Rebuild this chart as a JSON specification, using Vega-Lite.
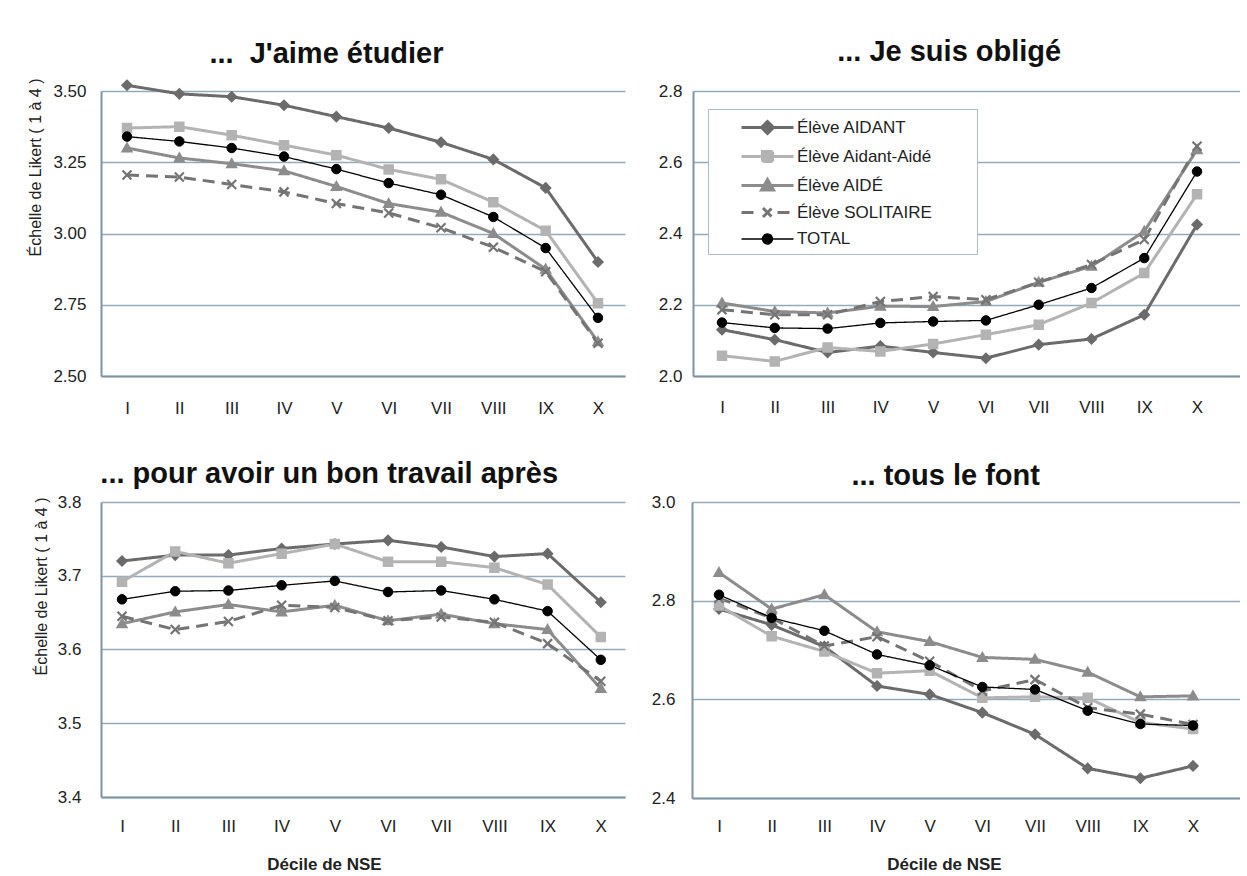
{
  "$schema": "https://vega.github.io/schema/vega-lite/v6.json",
  "background": "white",
  "padding": {"left": 27, "top": 38, "right": 0, "bottom": 0},
  "config": {
    "font": "Liberation Sans",
    "view": {"stroke": null},
    "axis": {"labelFont": "Liberation Sans", "labelFontSize": 17, "labelColor": "#222222", "ticks": false, "domainColor": "#7f95a3", "domainWidth": 2, "gridColor": "#92abbb", "gridWidth": 1.3, "titleFont": "Liberation Sans", "titleColor": "#222222"},
    "axisX": {"grid": false, "labelAngle": 0, "titleFontSize": 17, "titleFontWeight": "bold", "values": [1,2,3,4,5,6,7,8,9,10], "labelExpr": "['','I','II','III','IV','V','VI','VII','VIII','IX','X'][datum.value]"},
    "axisY": {"titleFontSize": 16, "titleFontWeight": "normal"},
    "title": {"font": "Liberation Sans", "fontSize": 29, "fontWeight": "bold", "color": "#111111", "anchor": "middle", "frame": "bounds"}
  },
  "datasets": {
    "aime": [
      {"i":1,"s":"Élève AIDANT","v":3.52},{"i":2,"s":"Élève AIDANT","v":3.49},{"i":3,"s":"Élève AIDANT","v":3.48},{"i":4,"s":"Élève AIDANT","v":3.45},{"i":5,"s":"Élève AIDANT","v":3.41},{"i":6,"s":"Élève AIDANT","v":3.37},{"i":7,"s":"Élève AIDANT","v":3.32},{"i":8,"s":"Élève AIDANT","v":3.26},{"i":9,"s":"Élève AIDANT","v":3.16},{"i":10,"s":"Élève AIDANT","v":2.90},
      {"i":1,"s":"Élève Aidant-Aidé","v":3.37},{"i":2,"s":"Élève Aidant-Aidé","v":3.375},{"i":3,"s":"Élève Aidant-Aidé","v":3.345},{"i":4,"s":"Élève Aidant-Aidé","v":3.31},{"i":5,"s":"Élève Aidant-Aidé","v":3.275},{"i":6,"s":"Élève Aidant-Aidé","v":3.225},{"i":7,"s":"Élève Aidant-Aidé","v":3.19},{"i":8,"s":"Élève Aidant-Aidé","v":3.11},{"i":9,"s":"Élève Aidant-Aidé","v":3.01},{"i":10,"s":"Élève Aidant-Aidé","v":2.755},
      {"i":1,"s":"Élève AIDÉ","v":3.30},{"i":2,"s":"Élève AIDÉ","v":3.265},{"i":3,"s":"Élève AIDÉ","v":3.245},{"i":4,"s":"Élève AIDÉ","v":3.22},{"i":5,"s":"Élève AIDÉ","v":3.165},{"i":6,"s":"Élève AIDÉ","v":3.105},{"i":7,"s":"Élève AIDÉ","v":3.075},{"i":8,"s":"Élève AIDÉ","v":3.00},{"i":9,"s":"Élève AIDÉ","v":2.875},{"i":10,"s":"Élève AIDÉ","v":2.62},
      {"i":1,"s":"Élève SOLITAIRE","v":3.205},{"i":2,"s":"Élève SOLITAIRE","v":3.198},{"i":3,"s":"Élève SOLITAIRE","v":3.172},{"i":4,"s":"Élève SOLITAIRE","v":3.146},{"i":5,"s":"Élève SOLITAIRE","v":3.105},{"i":6,"s":"Élève SOLITAIRE","v":3.072},{"i":7,"s":"Élève SOLITAIRE","v":3.02},{"i":8,"s":"Élève SOLITAIRE","v":2.952},{"i":9,"s":"Élève SOLITAIRE","v":2.866},{"i":10,"s":"Élève SOLITAIRE","v":2.615},
      {"i":1,"s":"TOTAL","v":3.34},{"i":2,"s":"TOTAL","v":3.323},{"i":3,"s":"TOTAL","v":3.30},{"i":4,"s":"TOTAL","v":3.27},{"i":5,"s":"TOTAL","v":3.226},{"i":6,"s":"TOTAL","v":3.177},{"i":7,"s":"TOTAL","v":3.136},{"i":8,"s":"TOTAL","v":3.058},{"i":9,"s":"TOTAL","v":2.949},{"i":10,"s":"TOTAL","v":2.704}
    ],
    "oblige": [
      {"i":1,"s":"Élève AIDANT","v":2.13},{"i":2,"s":"Élève AIDANT","v":2.102},{"i":3,"s":"Élève AIDANT","v":2.066},{"i":4,"s":"Élève AIDANT","v":2.084},{"i":5,"s":"Élève AIDANT","v":2.066},{"i":6,"s":"Élève AIDANT","v":2.05},{"i":7,"s":"Élève AIDANT","v":2.088},{"i":8,"s":"Élève AIDANT","v":2.104},{"i":9,"s":"Élève AIDANT","v":2.172},{"i":10,"s":"Élève AIDANT","v":2.425},
      {"i":1,"s":"Élève Aidant-Aidé","v":2.057},{"i":2,"s":"Élève Aidant-Aidé","v":2.041},{"i":3,"s":"Élève Aidant-Aidé","v":2.08},{"i":4,"s":"Élève Aidant-Aidé","v":2.069},{"i":5,"s":"Élève Aidant-Aidé","v":2.09},{"i":6,"s":"Élève Aidant-Aidé","v":2.116},{"i":7,"s":"Élève Aidant-Aidé","v":2.144},{"i":8,"s":"Élève Aidant-Aidé","v":2.205},{"i":9,"s":"Élève Aidant-Aidé","v":2.289},{"i":10,"s":"Élève Aidant-Aidé","v":2.51},
      {"i":1,"s":"Élève AIDÉ","v":2.205},{"i":2,"s":"Élève AIDÉ","v":2.181},{"i":3,"s":"Élève AIDÉ","v":2.177},{"i":4,"s":"Élève AIDÉ","v":2.196},{"i":5,"s":"Élève AIDÉ","v":2.195},{"i":6,"s":"Élève AIDÉ","v":2.209},{"i":7,"s":"Élève AIDÉ","v":2.263},{"i":8,"s":"Élève AIDÉ","v":2.308},{"i":9,"s":"Élève AIDÉ","v":2.406},{"i":10,"s":"Élève AIDÉ","v":2.635},
      {"i":1,"s":"Élève SOLITAIRE","v":2.186},{"i":2,"s":"Élève SOLITAIRE","v":2.172},{"i":3,"s":"Élève SOLITAIRE","v":2.172},{"i":4,"s":"Élève SOLITAIRE","v":2.209},{"i":5,"s":"Élève SOLITAIRE","v":2.223},{"i":6,"s":"Élève SOLITAIRE","v":2.214},{"i":7,"s":"Élève SOLITAIRE","v":2.263},{"i":8,"s":"Élève SOLITAIRE","v":2.313},{"i":9,"s":"Élève SOLITAIRE","v":2.383},{"i":10,"s":"Élève SOLITAIRE","v":2.645},
      {"i":1,"s":"TOTAL","v":2.15},{"i":2,"s":"TOTAL","v":2.135},{"i":3,"s":"TOTAL","v":2.133},{"i":4,"s":"TOTAL","v":2.149},{"i":5,"s":"TOTAL","v":2.153},{"i":6,"s":"TOTAL","v":2.156},{"i":7,"s":"TOTAL","v":2.2},{"i":8,"s":"TOTAL","v":2.247},{"i":9,"s":"TOTAL","v":2.331},{"i":10,"s":"TOTAL","v":2.574}
    ],
    "travail": [
      {"i":1,"s":"Élève AIDANT","v":3.72},{"i":2,"s":"Élève AIDANT","v":3.728},{"i":3,"s":"Élève AIDANT","v":3.728},{"i":4,"s":"Élève AIDANT","v":3.737},{"i":5,"s":"Élève AIDANT","v":3.743},{"i":6,"s":"Élève AIDANT","v":3.748},{"i":7,"s":"Élève AIDANT","v":3.739},{"i":8,"s":"Élève AIDANT","v":3.726},{"i":9,"s":"Élève AIDANT","v":3.73},{"i":10,"s":"Élève AIDANT","v":3.664},
      {"i":1,"s":"Élève Aidant-Aidé","v":3.692},{"i":2,"s":"Élève Aidant-Aidé","v":3.733},{"i":3,"s":"Élève Aidant-Aidé","v":3.717},{"i":4,"s":"Élève Aidant-Aidé","v":3.73},{"i":5,"s":"Élève Aidant-Aidé","v":3.743},{"i":6,"s":"Élève Aidant-Aidé","v":3.719},{"i":7,"s":"Élève Aidant-Aidé","v":3.719},{"i":8,"s":"Élève Aidant-Aidé","v":3.711},{"i":9,"s":"Élève Aidant-Aidé","v":3.688},{"i":10,"s":"Élève Aidant-Aidé","v":3.617},
      {"i":1,"s":"Élève AIDÉ","v":3.635},{"i":2,"s":"Élève AIDÉ","v":3.651},{"i":3,"s":"Élève AIDÉ","v":3.661},{"i":4,"s":"Élève AIDÉ","v":3.651},{"i":5,"s":"Élève AIDÉ","v":3.66},{"i":6,"s":"Élève AIDÉ","v":3.639},{"i":7,"s":"Élève AIDÉ","v":3.648},{"i":8,"s":"Élève AIDÉ","v":3.635},{"i":9,"s":"Élève AIDÉ","v":3.627},{"i":10,"s":"Élève AIDÉ","v":3.547},
      {"i":1,"s":"Élève SOLITAIRE","v":3.645},{"i":2,"s":"Élève SOLITAIRE","v":3.627},{"i":3,"s":"Élève SOLITAIRE","v":3.638},{"i":4,"s":"Élève SOLITAIRE","v":3.66},{"i":5,"s":"Élève SOLITAIRE","v":3.657},{"i":6,"s":"Élève SOLITAIRE","v":3.639},{"i":7,"s":"Élève SOLITAIRE","v":3.644},{"i":8,"s":"Élève SOLITAIRE","v":3.637},{"i":9,"s":"Élève SOLITAIRE","v":3.608},{"i":10,"s":"Élève SOLITAIRE","v":3.557},
      {"i":1,"s":"TOTAL","v":3.668},{"i":2,"s":"TOTAL","v":3.679},{"i":3,"s":"TOTAL","v":3.68},{"i":4,"s":"TOTAL","v":3.687},{"i":5,"s":"TOTAL","v":3.693},{"i":6,"s":"TOTAL","v":3.678},{"i":7,"s":"TOTAL","v":3.68},{"i":8,"s":"TOTAL","v":3.668},{"i":9,"s":"TOTAL","v":3.652},{"i":10,"s":"TOTAL","v":3.586}
    ],
    "font": [
      {"i":1,"s":"Élève AIDANT","v":2.783},{"i":2,"s":"Élève AIDANT","v":2.751},{"i":3,"s":"Élève AIDANT","v":2.707},{"i":4,"s":"Élève AIDANT","v":2.627},{"i":5,"s":"Élève AIDANT","v":2.61},{"i":6,"s":"Élève AIDANT","v":2.573},{"i":7,"s":"Élève AIDANT","v":2.529},{"i":8,"s":"Élève AIDANT","v":2.46},{"i":9,"s":"Élève AIDANT","v":2.44},{"i":10,"s":"Élève AIDANT","v":2.465},
      {"i":1,"s":"Élève Aidant-Aidé","v":2.79},{"i":2,"s":"Élève Aidant-Aidé","v":2.728},{"i":3,"s":"Élève Aidant-Aidé","v":2.697},{"i":4,"s":"Élève Aidant-Aidé","v":2.653},{"i":5,"s":"Élève Aidant-Aidé","v":2.658},{"i":6,"s":"Élève Aidant-Aidé","v":2.603},{"i":7,"s":"Élève Aidant-Aidé","v":2.605},{"i":8,"s":"Élève Aidant-Aidé","v":2.603},{"i":9,"s":"Élève Aidant-Aidé","v":2.553},{"i":10,"s":"Élève Aidant-Aidé","v":2.54},
      {"i":1,"s":"Élève AIDÉ","v":2.857},{"i":2,"s":"Élève AIDÉ","v":2.783},{"i":3,"s":"Élève AIDÉ","v":2.812},{"i":4,"s":"Élève AIDÉ","v":2.737},{"i":5,"s":"Élève AIDÉ","v":2.717},{"i":6,"s":"Élève AIDÉ","v":2.685},{"i":7,"s":"Élève AIDÉ","v":2.681},{"i":8,"s":"Élève AIDÉ","v":2.655},{"i":9,"s":"Élève AIDÉ","v":2.605},{"i":10,"s":"Élève AIDÉ","v":2.607},
      {"i":1,"s":"Élève SOLITAIRE","v":2.805},{"i":2,"s":"Élève SOLITAIRE","v":2.765},{"i":3,"s":"Élève SOLITAIRE","v":2.708},{"i":4,"s":"Élève SOLITAIRE","v":2.727},{"i":5,"s":"Élève SOLITAIRE","v":2.677},{"i":6,"s":"Élève SOLITAIRE","v":2.617},{"i":7,"s":"Élève SOLITAIRE","v":2.64},{"i":8,"s":"Élève SOLITAIRE","v":2.583},{"i":9,"s":"Élève SOLITAIRE","v":2.57},{"i":10,"s":"Élève SOLITAIRE","v":2.549},
      {"i":1,"s":"TOTAL","v":2.812},{"i":2,"s":"TOTAL","v":2.765},{"i":3,"s":"TOTAL","v":2.739},{"i":4,"s":"TOTAL","v":2.691},{"i":5,"s":"TOTAL","v":2.669},{"i":6,"s":"TOTAL","v":2.625},{"i":7,"s":"TOTAL","v":2.62},{"i":8,"s":"TOTAL","v":2.577},{"i":9,"s":"TOTAL","v":2.55},{"i":10,"s":"TOTAL","v":2.547}
    ]
  },
  "spacing": 44,
  "vconcat": [
    {
      "spacing": 33,
      "hconcat": [
        {
          "title": {"text": "...\u00a0 J'aime étudier", "offset": 8},
          "width": 524, "height": 285,
          "data": {"name": "aime"},
          "encoding": {
            "x": {"field": "i", "type": "quantitative", "scale": {"domain": [0.503, 10.516], "nice": false, "zero": false}, "axis": {"title": null, "labelPadding": 24}},
            "y": {"field": "v", "type": "quantitative", "scale": {"domain": [2.5, 3.5], "nice": false, "zero": false}, "axis": {"title": "Échelle de Likert ( 1 à 4 )", "values": [2.5, 2.75, 3, 3.25, 3.5], "format": ".2f", "labelPadding": 15, "titlePadding": 9, "titleAnchor": "end", "titleY": -13}}
          },
          "layer": [
            {"mark": {"type": "line", "strokeJoin": "round"},
             "encoding": {
               "color": {"field": "s", "type": "nominal", "scale": {"domain": ["Élève AIDANT","Élève Aidant-Aidé","Élève AIDÉ","Élève SOLITAIRE","TOTAL"], "range": ["#6b6b6b","#b3b3b3","#8c8c8c","#747474","#000000"]},
                 "legend": {"title": null, "orient": "none", "legendX": 607, "legendY": 18, "padding": 7, "strokeColor": "#a9bccb", "fillColor": "white", "labelFont": "Liberation Sans", "labelFontSize": 17, "labelColor": "#222222", "labelOffset": 59, "symbolSize": 400, "rowPadding": 5,
                   "encode": {"symbols": {"update": {
                     "shape": {"signal": "datum.value === 'Élève AIDANT' ? 'M1.5,0L6.7,0M4.1,-0.6L4.7,0L4.1,0.6L3.5,0ZM23.7,0' : datum.value === 'Élève Aidant-Aidé' ? 'M1.5,0L6.7,0M3.6,-0.5L4.6,-0.5L4.6,0.5L3.6,0.5ZM23.7,0' : datum.value === 'Élève AIDÉ' ? 'M1.5,0L6.7,0M4.1,-0.6L4.7,0.45L3.5,0.45ZM23.7,0' : datum.value === 'Élève SOLITAIRE' ? 'M1.5,0L3.1,0M5.1,0L6.7,0M3.65,-0.45L4.55,0.45M3.65,0.45L4.55,-0.45M23.7,0' : 'M1.5,0L6.7,0M3.6,0A0.5,0.5,0,1,0,4.6,0A0.5,0.5,0,1,0,3.6,0ZM23.7,0'"},
                     "fill": {"scale": "color", "field": "value"},
                     "stroke": {"scale": "color", "field": "value"},
                     "strokeWidth": {"signal": "datum.value === 'TOTAL' ? 1.3 : 2.5"},
                     "strokeDash": {"value": [1, 0]},
                     "opacity": {"value": 1}
                   }}}}},
               "strokeDash": {"field": "s", "type": "nominal", "scale": {"domain": ["Élève AIDANT","Élève Aidant-Aidé","Élève AIDÉ","Élève SOLITAIRE","TOTAL"], "range": [[1,0],[1,0],[1,0],[12,7],[1,0]]}, "legend": null},
               "strokeWidth": {"field": "s", "type": "nominal", "scale": {"type": "ordinal", "domain": ["Élève AIDANT","Élève Aidant-Aidé","Élève AIDÉ","Élève SOLITAIRE","TOTAL"], "range": [3,3,3,3,1.3]}, "legend": null}
             }},
            {"transform": [{"filter": {"field": "s", "equal": "Élève AIDANT"}}], "mark": {"type": "point", "shape": "M0,-1L1,0L0,1L-1,0Z", "filled": true, "fill": "#6b6b6b", "stroke": "#6b6b6b", "strokeWidth": 1.5, "size": 100, "opacity": 1}},
            {"transform": [{"filter": {"field": "s", "equal": "Élève Aidant-Aidé"}}], "mark": {"type": "point", "shape": "M-0.9,-0.9L0.9,-0.9L0.9,0.9L-0.9,0.9Z", "filled": true, "fill": "#b3b3b3", "stroke": "#b3b3b3", "strokeWidth": 1.5, "size": 100, "opacity": 1}},
            {"transform": [{"filter": {"field": "s", "equal": "Élève AIDÉ"}}], "mark": {"type": "point", "shape": "M0,-1L1,0.75L-1,0.75Z", "filled": true, "fill": "#8c8c8c", "stroke": "#8c8c8c", "strokeWidth": 1.5, "size": 100, "opacity": 1}},
            {"transform": [{"filter": {"field": "s", "equal": "Élève SOLITAIRE"}}], "mark": {"type": "point", "shape": "M-0.9,-0.9L0.9,0.9M-0.9,0.9L0.9,-0.9", "filled": false, "stroke": "#747474", "strokeWidth": 2.2, "size": 100, "opacity": 1}},
            {"transform": [{"filter": {"field": "s", "equal": "TOTAL"}}], "mark": {"type": "point", "shape": "circle", "filled": true, "fill": "#000000", "stroke": "#000000", "strokeWidth": 1, "size": 90, "opacity": 1}}
          ]
        },
        {
          "title": {"text": "... Je suis obligé", "offset": 15},
          "width": 547, "height": 285,
          "data": {"name": "oblige"},
          "encoding": {
            "x": {"field": "i", "type": "quantitative", "scale": {"domain": [0.4506, 10.814], "nice": false, "zero": false}, "axis": {"title": null, "labelPadding": 23}},
            "y": {"field": "v", "type": "quantitative", "scale": {"domain": [2.0, 2.8], "nice": false, "zero": false}, "axis": {"title": null, "values": [2.0, 2.2, 2.4, 2.6, 2.8], "format": ".1f", "labelPadding": 11}}
          },
          "layer": [
            {"mark": {"type": "line", "strokeJoin": "round"},
             "encoding": {
               "color": {"field": "s", "type": "nominal", "scale": {"domain": ["Élève AIDANT","Élève Aidant-Aidé","Élève AIDÉ","Élève SOLITAIRE","TOTAL"], "range": ["#6b6b6b","#b3b3b3","#8c8c8c","#747474","#000000"]}},
               "strokeDash": {"field": "s", "type": "nominal", "scale": {"domain": ["Élève AIDANT","Élève Aidant-Aidé","Élève AIDÉ","Élève SOLITAIRE","TOTAL"], "range": [[1,0],[1,0],[1,0],[12,7],[1,0]]}, "legend": null},
               "strokeWidth": {"field": "s", "type": "nominal", "scale": {"type": "ordinal", "domain": ["Élève AIDANT","Élève Aidant-Aidé","Élève AIDÉ","Élève SOLITAIRE","TOTAL"], "range": [3,3,3,3,1.3]}, "legend": null}
             }},
            {"transform": [{"filter": {"field": "s", "equal": "Élève AIDANT"}}], "mark": {"type": "point", "shape": "M0,-1L1,0L0,1L-1,0Z", "filled": true, "fill": "#6b6b6b", "stroke": "#6b6b6b", "strokeWidth": 1.5, "size": 100, "opacity": 1}},
            {"transform": [{"filter": {"field": "s", "equal": "Élève Aidant-Aidé"}}], "mark": {"type": "point", "shape": "M-0.9,-0.9L0.9,-0.9L0.9,0.9L-0.9,0.9Z", "filled": true, "fill": "#b3b3b3", "stroke": "#b3b3b3", "strokeWidth": 1.5, "size": 100, "opacity": 1}},
            {"transform": [{"filter": {"field": "s", "equal": "Élève AIDÉ"}}], "mark": {"type": "point", "shape": "M0,-1L1,0.75L-1,0.75Z", "filled": true, "fill": "#8c8c8c", "stroke": "#8c8c8c", "strokeWidth": 1.5, "size": 100, "opacity": 1}},
            {"transform": [{"filter": {"field": "s", "equal": "Élève SOLITAIRE"}}], "mark": {"type": "point", "shape": "M-0.9,-0.9L0.9,0.9M-0.9,0.9L0.9,-0.9", "filled": false, "stroke": "#747474", "strokeWidth": 2.2, "size": 100, "opacity": 1}},
            {"transform": [{"filter": {"field": "s", "equal": "TOTAL"}}], "mark": {"type": "point", "shape": "circle", "filled": true, "fill": "#000000", "stroke": "#000000", "strokeWidth": 1, "size": 90, "opacity": 1}}
          ]
        }
      ]
    },
    {
      "spacing": 26,
      "hconcat": [
        {
          "title": {"text": "... pour avoir un bon travail après", "offset": 4},
          "width": 524, "height": 295,
          "data": {"name": "travail"},
          "encoding": {
            "x": {"field": "i", "type": "quantitative", "scale": {"domain": [0.605, 10.455], "nice": false, "zero": false}, "axis": {"title": "Décile de NSE", "labelPadding": 21, "titlePadding": 22, "titleX": 223}},
            "y": {"field": "v", "type": "quantitative", "scale": {"domain": [3.4, 3.8], "nice": false, "zero": false}, "axis": {"title": "Échelle de Likert ( 1 à 4 )", "values": [3.4, 3.5, 3.6, 3.7, 3.8], "format": ".1f", "labelPadding": 20, "titlePadding": 8, "titleAnchor": "end", "titleY": -5}}
          },
          "layer": [
            {"mark": {"type": "line", "strokeJoin": "round"},
             "encoding": {
               "color": {"field": "s", "type": "nominal", "scale": {"domain": ["Élève AIDANT","Élève Aidant-Aidé","Élève AIDÉ","Élève SOLITAIRE","TOTAL"], "range": ["#6b6b6b","#b3b3b3","#8c8c8c","#747474","#000000"]}},
               "strokeDash": {"field": "s", "type": "nominal", "scale": {"domain": ["Élève AIDANT","Élève Aidant-Aidé","Élève AIDÉ","Élève SOLITAIRE","TOTAL"], "range": [[1,0],[1,0],[1,0],[12,7],[1,0]]}, "legend": null},
               "strokeWidth": {"field": "s", "type": "nominal", "scale": {"type": "ordinal", "domain": ["Élève AIDANT","Élève Aidant-Aidé","Élève AIDÉ","Élève SOLITAIRE","TOTAL"], "range": [3,3,3,3,1.3]}, "legend": null}
             }},
            {"transform": [{"filter": {"field": "s", "equal": "Élève AIDANT"}}], "mark": {"type": "point", "shape": "M0,-1L1,0L0,1L-1,0Z", "filled": true, "fill": "#6b6b6b", "stroke": "#6b6b6b", "strokeWidth": 1.5, "size": 100, "opacity": 1}},
            {"transform": [{"filter": {"field": "s", "equal": "Élève Aidant-Aidé"}}], "mark": {"type": "point", "shape": "M-0.9,-0.9L0.9,-0.9L0.9,0.9L-0.9,0.9Z", "filled": true, "fill": "#b3b3b3", "stroke": "#b3b3b3", "strokeWidth": 1.5, "size": 100, "opacity": 1}},
            {"transform": [{"filter": {"field": "s", "equal": "Élève AIDÉ"}}], "mark": {"type": "point", "shape": "M0,-1L1,0.75L-1,0.75Z", "filled": true, "fill": "#8c8c8c", "stroke": "#8c8c8c", "strokeWidth": 1.5, "size": 100, "opacity": 1}},
            {"transform": [{"filter": {"field": "s", "equal": "Élève SOLITAIRE"}}], "mark": {"type": "point", "shape": "M-0.9,-0.9L0.9,0.9M-0.9,0.9L0.9,-0.9", "filled": false, "stroke": "#747474", "strokeWidth": 2.2, "size": 100, "opacity": 1}},
            {"transform": [{"filter": {"field": "s", "equal": "TOTAL"}}], "mark": {"type": "point", "shape": "circle", "filled": true, "fill": "#000000", "stroke": "#000000", "strokeWidth": 1, "size": 90, "opacity": 1}}
          ]
        },
        {
          "title": {"text": "... tous le font", "offset": 2},
          "width": 548, "height": 296,
          "data": {"name": "font"},
          "encoding": {
            "x": {"field": "i", "type": "quantitative", "scale": {"domain": [0.4874, 10.892], "nice": false, "zero": false}, "axis": {"title": "Décile de NSE", "labelPadding": 20, "titlePadding": 22, "titleX": 252}},
            "y": {"field": "v", "type": "quantitative", "scale": {"domain": [2.4, 3.0], "nice": false, "zero": false}, "axis": {"title": null, "values": [2.4, 2.6, 2.8, 3.0], "format": ".1f", "labelPadding": 17}}
          },
          "layer": [
            {"mark": {"type": "line", "strokeJoin": "round"},
             "encoding": {
               "color": {"field": "s", "type": "nominal", "scale": {"domain": ["Élève AIDANT","Élève Aidant-Aidé","Élève AIDÉ","Élève SOLITAIRE","TOTAL"], "range": ["#6b6b6b","#b3b3b3","#8c8c8c","#747474","#000000"]}},
               "strokeDash": {"field": "s", "type": "nominal", "scale": {"domain": ["Élève AIDANT","Élève Aidant-Aidé","Élève AIDÉ","Élève SOLITAIRE","TOTAL"], "range": [[1,0],[1,0],[1,0],[12,7],[1,0]]}, "legend": null},
               "strokeWidth": {"field": "s", "type": "nominal", "scale": {"type": "ordinal", "domain": ["Élève AIDANT","Élève Aidant-Aidé","Élève AIDÉ","Élève SOLITAIRE","TOTAL"], "range": [3,3,3,3,1.3]}, "legend": null}
             }},
            {"transform": [{"filter": {"field": "s", "equal": "Élève AIDANT"}}], "mark": {"type": "point", "shape": "M0,-1L1,0L0,1L-1,0Z", "filled": true, "fill": "#6b6b6b", "stroke": "#6b6b6b", "strokeWidth": 1.5, "size": 100, "opacity": 1}},
            {"transform": [{"filter": {"field": "s", "equal": "Élève Aidant-Aidé"}}], "mark": {"type": "point", "shape": "M-0.9,-0.9L0.9,-0.9L0.9,0.9L-0.9,0.9Z", "filled": true, "fill": "#b3b3b3", "stroke": "#b3b3b3", "strokeWidth": 1.5, "size": 100, "opacity": 1}},
            {"transform": [{"filter": {"field": "s", "equal": "Élève AIDÉ"}}], "mark": {"type": "point", "shape": "M0,-1L1,0.75L-1,0.75Z", "filled": true, "fill": "#8c8c8c", "stroke": "#8c8c8c", "strokeWidth": 1.5, "size": 100, "opacity": 1}},
            {"transform": [{"filter": {"field": "s", "equal": "Élève SOLITAIRE"}}], "mark": {"type": "point", "shape": "M-0.9,-0.9L0.9,0.9M-0.9,0.9L0.9,-0.9", "filled": false, "stroke": "#747474", "strokeWidth": 2.2, "size": 100, "opacity": 1}},
            {"transform": [{"filter": {"field": "s", "equal": "TOTAL"}}], "mark": {"type": "point", "shape": "circle", "filled": true, "fill": "#000000", "stroke": "#000000", "strokeWidth": 1, "size": 90, "opacity": 1}}
          ]
        }
      ]
    }
  ]
}
